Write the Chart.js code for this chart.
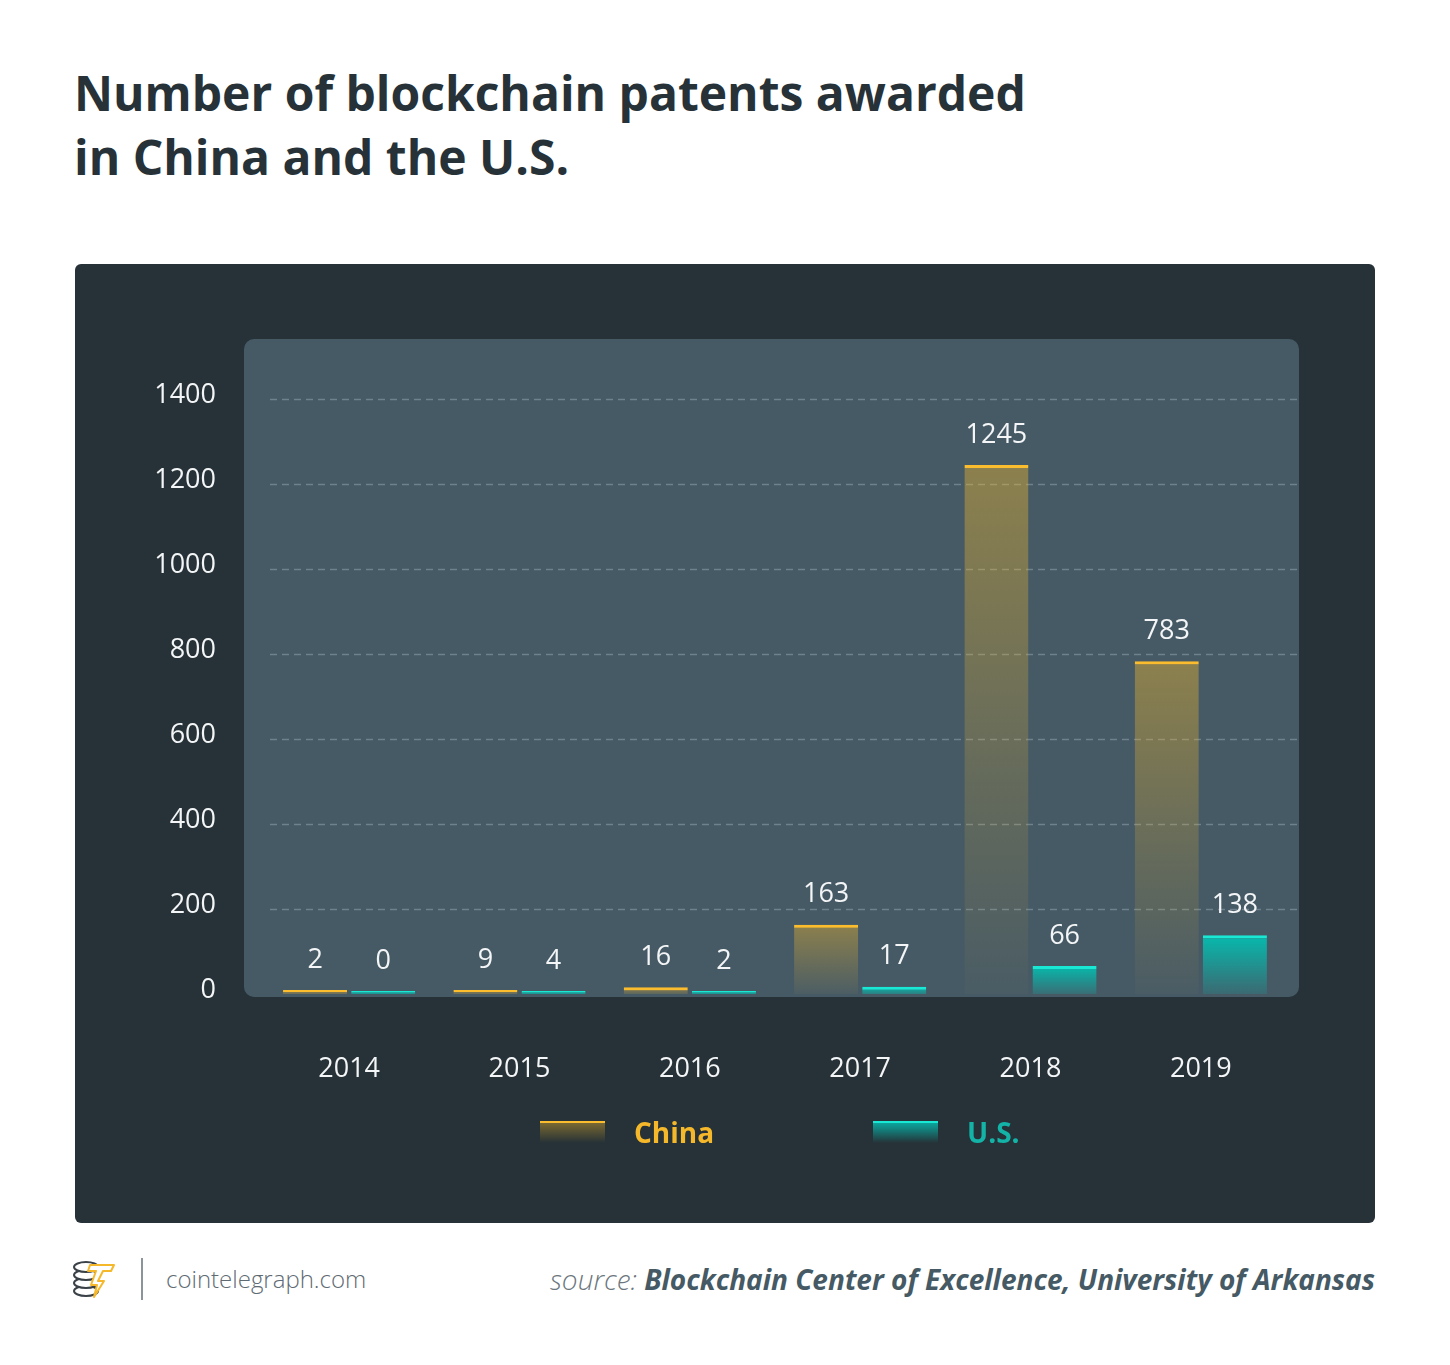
<!DOCTYPE html>
<html>
<head>
<meta charset="utf-8">
<script src="https://cdn.jsdelivr.net/npm/chart.js@4"></script>
<style>
  html, body { margin: 0; padding: 0; background: #ffffff; }
  body { width: 1450px; height: 1365px; position: relative; font-family: 'Open Sans', sans-serif; overflow: hidden; }
  #title { position: absolute; left: 74px; top: 61px; font-size: 48px; font-weight: 700; line-height: 64px; color: #263238; white-space: nowrap; }
  #panel { position: absolute; left: 75px; top: 264px; width: 1300px; height: 959px; background: #263238; border-radius: 6px; }
  #chart-wrap { position: absolute; left: 0; top: 0; width: 1300px; height: 959px; }
  .legend-item { position: absolute; top: 856px; height: 24px; display: flex; align-items: center; }
  .swatch { width: 65px; height: 20px; margin-right: 29px; }
  .legend-label { font-size: 28px; font-weight: 700; line-height: 24px; }
  #footer-logo { position: absolute; left: 70px; top: 1257px; }
  #footer-divider { position: absolute; left: 141px; top: 1258px; width: 2px; height: 42px; background: #8a949a; }
  #footer-site { position: absolute; left: 166px; top: 1262px; font-size: 24px; font-weight: 300; color: #5f6b73; }
  #footer-source { position: absolute; right: 75px; top: 1260px; font-size: 28px; font-style: italic; color: #455a64; white-space: nowrap; }
  #footer-source span { font-weight: 300; color: #6b767d; }
  #footer-source b { font-weight: 700; }
</style>
</head>
<body>
<div id="title">Number of blockchain patents awarded<br>in China and the U.S.</div>

<div id="panel">
  <div id="chart-wrap"><canvas id="patents-chart"></canvas></div>
  <div id="legend"></div>
</div>

<svg id="footer-logo" width="48" height="44" viewBox="0 0 48 44">
  <g fill="#ffffff" stroke="#3a4248" stroke-width="2">
    <ellipse cx="16" cy="34" rx="12" ry="5"/>
    <ellipse cx="16" cy="26" rx="12" ry="5"/>
    <ellipse cx="16" cy="18" rx="12" ry="5"/>
    <ellipse cx="16" cy="10" rx="12" ry="5"/>
  </g>
  <path d="M20 8 L44 8 L41 14 L33 14 L28 24 L34 24 L24 40 L27 28 L21 28 L26 14 L18 14 Z" fill="#ffffff" stroke="#f5b82a" stroke-width="2" stroke-linejoin="round"/>
</svg>
<div id="footer-divider"></div>
<div id="footer-site">cointelegraph.com</div>
<div id="footer-source"><span>source: </span><b>Blockchain Center of Excellence, University of Arkansas</b></div>

<script>
const years = ['2014', '2015', '2016', '2017', '2018', '2019'];
const chinaPatents = [2, 9, 16, 163, 1245, 783];
const usPatents = [0, 4, 2, 17, 66, 138];
const yTicks = [0, 200, 400, 600, 800, 1000, 1200, 1400];
const seriesNames = ['China', 'U.S.'];

const chinaColor = '#fbbc2d';
const usColor = '#19e8d5';

function barFill(rgb, topAlpha, bottomAlpha) {
  return (ctx) => {
    const chart = ctx.chart;
    if (!chart.chartArea || ctx.type !== 'data') return `rgba(${rgb},${topAlpha})`;
    const yScale = chart.scales.y;
    const bottom = yScale.getPixelForValue(0) + 3;
    const top = Math.min(yScale.getPixelForValue(ctx.raw), bottom - 6);
    const g = chart.ctx.createLinearGradient(0, top, 0, bottom);
    g.addColorStop(0, `rgba(${rgb},${topAlpha})`);
    g.addColorStop(1, `rgba(${rgb},${bottomAlpha})`);
    return g;
  };
}

// lighter rounded plot box + dashed grid, placed from the chart area
const plotBox = {
  id: 'plotBox',
  beforeDatasetsDraw(chart) {
    const { ctx, chartArea, scales } = chart;
    const zero = scales.y.getPixelForValue(0);
    const left = chartArea.left - 20;
    const right = chartArea.right + 13;
    const top = chartArea.top - 60;
    const bottom = zero + 3;
    ctx.save();
    ctx.fillStyle = '#465a66';
    ctx.beginPath();
    ctx.roundRect(left, top, right - left, bottom - top, 10);
    ctx.fill();

    ctx.strokeStyle = '#6e818c';
    ctx.lineWidth = 1.5;
    ctx.setLineDash([7, 5]);
    yTicks.forEach((v) => {
      if (v === 0) return;
      const y = Math.round(scales.y.getPixelForValue(v)) + 0.5;
      ctx.beginPath();
      ctx.moveTo(chartArea.left + 6, y);
      ctx.lineTo(right, y);
      ctx.stroke();
    });
    ctx.restore();
  },
};

const valueLabels = {
  id: 'valueLabels',
  afterDatasetsDraw(chart) {
    const { ctx } = chart;
    ctx.save();
    ctx.font = '400 27px "Open Sans"';
    ctx.fillStyle = '#f3f5f6';
    ctx.textAlign = 'center';
    ctx.textBaseline = 'middle';
    chart.data.datasets.forEach((ds, i) => {
      chart.getDatasetMeta(i).data.forEach((bar, j) => {
        ctx.fillText(String(ds.data[j]), bar.x, bar.y - 30);
      });
    });
    ctx.restore();
  },
};

new Chart(document.getElementById('patents-chart'), {
  type: 'bar',
  data: {
    labels: years,
    datasets: [
      {
        label: seriesNames[0],
        data: chinaPatents,
        backgroundColor: barFill('245,185,40', 0.4, 0.02),
        borderColor: chinaColor,
        borderWidth: { top: 3, left: 0, right: 0, bottom: 0 },
        borderSkipped: false,
        minBarLength: 4,
        categoryPercentage: 0.8,
        barPercentage: 0.94,
      },
      {
        label: seriesNames[1],
        data: usPatents,
        backgroundColor: barFill('6,186,174', 1, 0.12),
        borderColor: usColor,
        borderWidth: { top: 3, left: 0, right: 0, bottom: 0 },
        borderSkipped: false,
        minBarLength: 3,
        categoryPercentage: 0.8,
        barPercentage: 0.94,
      },
    ],
  },
  options: {
    responsive: true,
    maintainAspectRatio: false,
    animation: false,
    layout: { padding: { left: 0, right: 89, top: 135, bottom: 0 } },
    plugins: {
      legend: { display: false },
      tooltip: { enabled: false },
    },
    scales: {
      x: {
        grid: { display: false },
        border: { display: false },
        ticks: {
          color: '#f3f5f6',
          font: { family: 'Open Sans', size: 27 },
          padding: 51,
        },
        afterFit: (scale) => { scale.height = 229; },
      },
      y: {
        min: 0,
        max: 1400,
        afterBuildTicks: (scale) => { scale.ticks = yTicks.map((v) => ({ value: v })); },
        grid: { display: false },
        border: { display: false },
        ticks: {
          color: '#f3f5f6',
          font: { family: 'Open Sans', size: 27 },
          padding: 40,
          labelOffset: -4,
          callback: (v) => String(v),
        },
        afterFit: (scale) => { scale.width = 189; },
      },
    },
  },
  plugins: [plotBox, valueLabels],
});

// legend built from the same series names and colours
const legend = document.getElementById('legend');
[
  { name: seriesNames[0], line: chinaColor, fill: 'rgba(245,185,40,0.4)', text: '#f5b82a', left: 465 },
  { name: seriesNames[1], line: usColor, fill: 'rgba(6,186,174,0.85)', text: '#13b3a8', left: 798 },
].forEach((item) => {
  const el = document.createElement('div');
  el.className = 'legend-item';
  el.style.left = item.left + 'px';
  el.innerHTML = `
    <div class="swatch" style="border-top:2px solid ${item.line};background:linear-gradient(${item.fill}, rgba(38,50,56,0))"></div>
    <div class="legend-label" style="color:${item.text}">${item.name}</div>
  `;
  legend.appendChild(el);
});
</script>
</body>
</html>
